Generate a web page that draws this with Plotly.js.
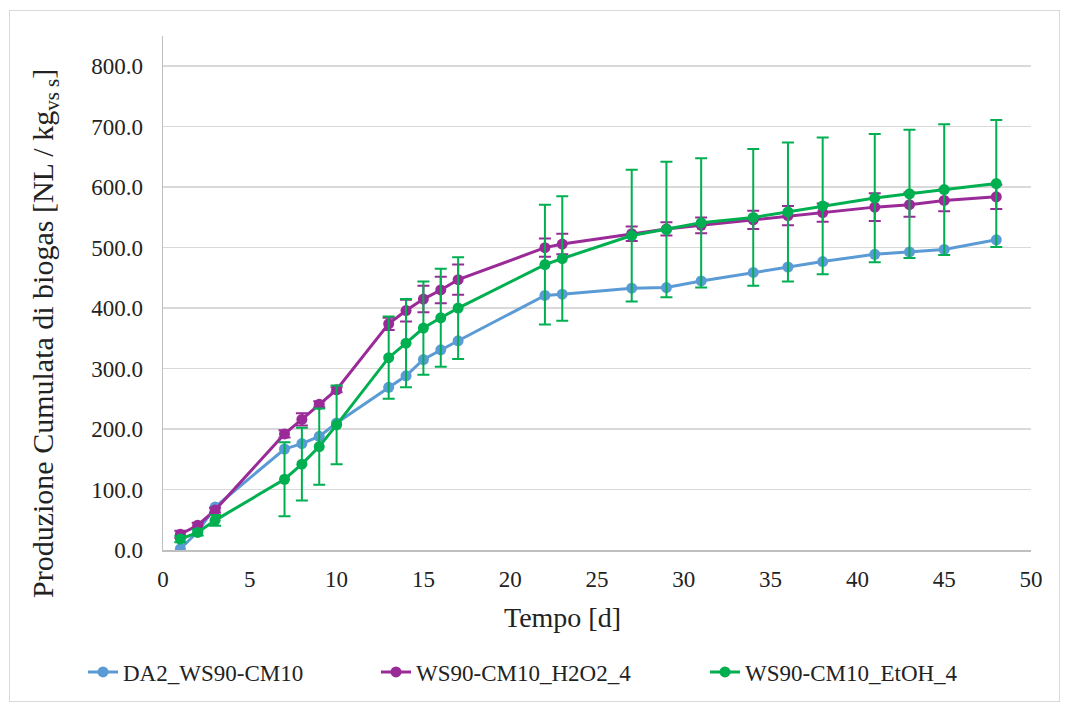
<!DOCTYPE html>
<html>
<head>
<meta charset="utf-8">
<script src="https://cdn.plot.ly/plotly-3.0.1.min.js"></script>
<style>
  html, body { margin: 0; padding: 0; background: #fff; }
  #wrap { position: relative; width: 1067px; height: 711px; }
  #chart { width: 1067px; height: 711px; }
  #frame { position: absolute; left: 9px; top: 10px; width: 1049px; height: 690px;
           border: 1px solid #d9d9d9; pointer-events: none; }
</style>
</head>
<body>
<div id="wrap">
  <div id="chart"></div>
  <div id="frame"></div>
</div>
<script>
// ---- data ----
const days = [1, 2, 3, 7, 8, 9, 10, 13, 14, 15, 16, 17, 22, 23, 27, 29, 31, 34, 36, 38, 41, 43, 45, 48];

const seriesNames = ["DA2_WS90-CM10", "WS90-CM10_H2O2_4", "WS90-CM10_EtOH_4"];

const da2 = [2, 30, 71, 167, 176, 188, 210, 269, 288, 315, 331, 346, 421, 423, 433, 434, 445, 459, 468, 477, 489, 493, 497, 513];

const h2o2 = [26, 41, 66, 192, 216, 241, 265, 374, 396, 415, 430, 447, 500, 506, 523, 531, 537, 546, 553, 558, 567, 571, 578, 584];
const h2o2Err = [6, 4, 4, 6, 10, 5, 4, 10, 18, 22, 22, 25, 15, 17, 12, 11, 13, 15, 16, 15, 23, 20, 18, 20];

const etoh = [18, 29, 49, 117, 142, 171, 207, 318, 342, 367, 384, 400, 472, 482, 520, 530, 541, 550, 559, 569, 582, 589, 596, 606];
const etohErr = [5, 5, 9, 61, 60, 63, 65, 68, 73, 77, 81, 84, 99, 103, 109, 112, 107, 113, 115, 113, 106, 106, 108, 105];

const yTicks = [0, 100, 200, 300, 400, 500, 600, 700, 800];
const xTicks = [0, 5, 10, 15, 20, 25, 30, 35, 40, 45, 50];

// ---- styling ----
const colors = ["#5b9bd5", "#9a2a97", "#00b050"];
const FONT = "Liberation Serif, Times New Roman, serif";

function mk(name, y, err, color, legendId) {
  const t = {
    x: days, y: y, name: name, type: "scatter", mode: "lines+markers",
    line: { color: color, width: 3 },
    marker: { color: color, size: 11 },
    legend: legendId
  };
  if (err) {
    t.error_y = { type: "data", array: err, visible: true, color: color, thickness: 2, width: 6 };
  }
  return t;
}

const data = [
  mk(seriesNames[0], da2, null, colors[0], "legend"),
  mk(seriesNames[1], h2o2, h2o2Err, colors[1], "legend2"),
  mk(seriesNames[2], etoh, etohErr, colors[2], "legend3")
];

function leg(px) {
  return {
    orientation: "h", xref: "container", yref: "container",
    x: px / 1067, xanchor: "left", y: 1 - 672 / 711, yanchor: "middle",
    font: { family: FONT, size: 23, color: "#222" },
    bgcolor: "rgba(0,0,0,0)"
  };
}

const layout = {
  width: 1067, height: 711,
  margin: { l: 163, r: 36, t: 36, b: 161 },
  paper_bgcolor: "#fff", plot_bgcolor: "#fff",
  font: { family: FONT, size: 23, color: "#222" },
  showlegend: true,
  legend: leg(83),
  legend2: leg(376),
  legend3: leg(705),
  xaxis: {
    range: [0, 50], tickvals: xTicks, ticktext: xTicks.map(String),
    showgrid: false, zeroline: false,
    showline: true, linecolor: "#bfbfbf", linewidth: 1.5,
    ticks: "", ticklabelstandoff: 8,
    tickfont: { family: FONT, size: 23, color: "#222" }
  },
  yaxis: {
    range: [0, 850], tickvals: yTicks, ticktext: yTicks.map(v => v.toFixed(1)),
    showgrid: true, gridcolor: "#d9d9d9", gridwidth: 1.5, zeroline: false,
    showline: true, linecolor: "#bfbfbf", linewidth: 1.5,
    ticks: "", ticklabelstandoff: 14,
    tickfont: { family: FONT, size: 23, color: "#222" }
  },
  annotations: [
    {
      text: "Tempo [d]", xref: "paper", yref: "paper",
      x: (562 - 163) / 868, y: (550 - 617) / 514, xanchor: "center", yanchor: "middle",
      showarrow: false, font: { family: FONT, size: 28, color: "#222" }
    },
    {
      text: "Produzione Cumulata di biogas [NL / kg<sub>vs s</sub>]", xref: "paper", yref: "paper",
      x: (45 - 163) / 868, y: (550 - 334) / 514, xanchor: "center", yanchor: "middle",
      textangle: -90, showarrow: false, font: { family: FONT, size: 30, color: "#222" }
    }
  ]
};

Plotly.newPlot("chart", data, layout, { displayModeBar: false, staticPlot: true });
</script>
</body>
</html>
